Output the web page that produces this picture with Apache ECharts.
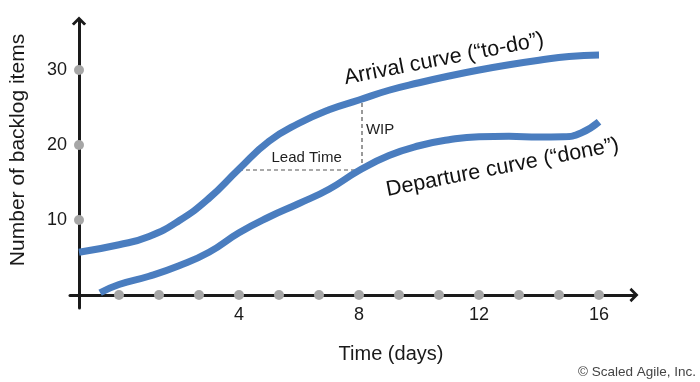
<!DOCTYPE html>
<html>
<head>
<meta charset="utf-8">
<script src="https://cdn.jsdelivr.net/npm/echarts@6/dist/echarts.min.js"></script>
<style>
  html, body { margin: 0; padding: 0; background: #ffffff; }
  #chart { width: 700px; height: 382px; }
</style>
</head>
<body>
<div id="chart"></div>
<script>
// ---- data ----
const arrivalDays   = [-1.333, 0, 1, 2, 3, 4, 5, 6, 7, 8, 9, 10, 11, 12, 13, 14, 15, 16];
const arrivalValues = [5.7, 6.7, 7.8, 9.9, 12.9, 16.8, 20.5, 22.9, 24.7, 26.0, 27.3, 28.3, 29.2, 30.0, 30.7, 31.3, 31.8, 32.0];

const departureDays   = [-0.63, 0, 1, 2, 3, 4, 5, 6, 7, 8, 9, 10, 11, 12, 13, 14, 14.8, 15.4, 16];
const departureValues = [0.3, 1.4, 2.5, 3.9, 5.7, 8.3, 10.4, 12.2, 14.1, 16.6, 18.6, 19.9, 20.7, 21.1, 21.15, 21.05, 21.1, 21.6, 23.1];

const xDotDays   = [0, 1.333, 2.667, 4, 5.333, 6.667, 8, 9.333, 10.667, 12, 13.333, 14.667, 16];
const xTickLabels = [4, 8, 12, 16];
const yTickLabels = [10, 20, 30];
const yAxisDay = -1.333;

const leadTimeLine = [[4.0, 16.67], [8.1, 16.67]];
const wipLine      = [[8.1, 16.67], [8.1, 26.0]];

const noteTexts  = ['Lead Time', 'WIP'];
const notePoints = [[6.27, 18.27], [8.72, 22.0]];

const curveLabelTexts  = ['Arrival curve (\u201Cto-do\u201D)', 'Departure curve (\u201Cdone\u201D)'];
const curveLabelPoints = [[10.85, 31.4], [12.8, 16.93]];

const xAxisName = 'Time (days)';
const yAxisName = 'Number of backlog items';
const credit = '\u00A9 Scaled Agile, Inc.';

// ---- styling ----
const FONT = '"Liberation Sans", Arial, Helvetica, sans-serif';
const BLUE = '#4a7dbf';
const AXIS = '#1a1a1a';
const DOT = '#a6a6a6';
const chevron = 'path://M0,10 L10,0 L20,10 L17,12.5 L10,5.5 L3,12.5 Z';

const chart = echarts.init(document.getElementById('chart'), null, { renderer: 'canvas' });

const plainLabel = (text, size, color, rotate) => ({
  show: true,
  position: [0, 0],
  align: 'center',
  verticalAlign: 'middle',
  rotate: rotate || 0,
  formatter: text,
  fontSize: size,
  color: color,
  opacity: 1,
  textBorderWidth: 0,
  textShadowBlur: 0,
  fontFamily: FONT
});

const option = {
  animation: false,
  backgroundColor: '#ffffff',
  textStyle: { fontFamily: FONT },
  title: {
    text: credit,
    right: 4,
    top: 365,
    padding: 0,
    textStyle: { fontSize: 13.5, fontWeight: 'normal', color: '#444444', fontFamily: FONT }
  },
  grid: {
    left: 70, right: 66, top: 21, bottom: 74,
    containLabel: false,
    outerBoundsMode: 'none'
  },
  xAxis: {
    type: 'value',
    min: -1.6333,
    max: 17.1667,
    axisLine: {
      show: true,
      onZero: true,
      symbol: ['none', chevron],
      symbolSize: [17, 9],
      lineStyle: { color: AXIS, width: 3 }
    },
    axisTick: { show: false },
    splitLine: { show: false },
    axisLabel: {
      customValues: xTickLabels,
      formatter: v => String(Math.round(v)),
      fontSize: 18,
      color: AXIS,
      margin: -2,
      fontFamily: FONT
    },
    name: xAxisName,
    nameLocation: 'middle',
    nameGap: 36,
    nameTextStyle: { fontSize: 20, color: AXIS, fontFamily: FONT, padding: [0, 0, 0, 78] }
  },
  yAxis: {
    type: 'value',
    min: -1.7333,
    max: 36.5333,
    offset: -9,
    axisLine: {
      show: true,
      onZero: false,
      symbol: ['none', chevron],
      symbolSize: [17, 9],
      lineStyle: { color: AXIS, width: 3 }
    },
    axisTick: { show: false },
    splitLine: { show: false },
    axisLabel: {
      customValues: yTickLabels,
      formatter: v => String(Math.round(v)),
      fontSize: 18,
      color: AXIS,
      margin: 12,
      fontFamily: FONT
    },
    name: yAxisName,
    nameLocation: 'middle',
    nameRotate: 90,
    nameGap: 50,
    nameTextStyle: { fontSize: 21, color: AXIS, fontFamily: FONT, padding: [0, 0, 0, 29] }
  },
  series: [
    {
      name: 'Arrival',
      type: 'line',
      smooth: 0.5,
      showSymbol: false,
      symbol: 'none',
      z: 3,
      lineStyle: { color: BLUE, width: 7 },
      data: arrivalDays.map((d, i) => [d, arrivalValues[i]])
    },
    {
      name: 'Departure',
      type: 'line',
      smooth: 0.5,
      showSymbol: false,
      symbol: 'none',
      z: 3,
      lineStyle: { color: BLUE, width: 7 },
      data: departureDays.map((d, i) => [d, departureValues[i]])
    },
    {
      name: 'Lead time',
      type: 'line',
      symbol: 'none',
      z: 2,
      lineStyle: { color: '#555555', width: 1.2, type: [4, 3] },
      data: leadTimeLine
    },
    {
      name: 'WIP',
      type: 'line',
      symbol: 'none',
      z: 2,
      lineStyle: { color: '#555555', width: 1.2, type: [4, 3] },
      data: wipLine
    },
    {
      name: 'x dots',
      type: 'scatter',
      symbol: 'circle',
      symbolSize: 10,
      z: 5,
      itemStyle: { color: DOT, opacity: 1 },
      data: xDotDays.map(d => [d, 0])
    },
    {
      name: 'y dots',
      type: 'scatter',
      symbol: 'circle',
      symbolSize: 10,
      z: 5,
      itemStyle: { color: DOT, opacity: 1 },
      data: yTickLabels.map(v => [yAxisDay, v])
    },
    {
      name: 'notes',
      type: 'scatter',
      symbolSize: 1,
      z: 6,
      silent: true,
      itemStyle: { color: 'rgba(0,0,0,0)', opacity: 1 },
      data: notePoints.map((p, i) => ({
        value: p,
        label: plainLabel(noteTexts[i], 15, '#1e1e1e', 0)
      }))
    },
    {
      name: 'curve labels',
      type: 'scatter',
      symbolSize: 1,
      z: 6,
      silent: true,
      itemStyle: { color: 'rgba(0,0,0,0)', opacity: 1 },
      data: curveLabelPoints.map((p, i) => ({
        value: p,
        label: plainLabel(curveLabelTexts[i], 21.5, '#111111', 11)
      }))
    }
  ]
};

chart.setOption(option);
</script>
</body>
</html>
